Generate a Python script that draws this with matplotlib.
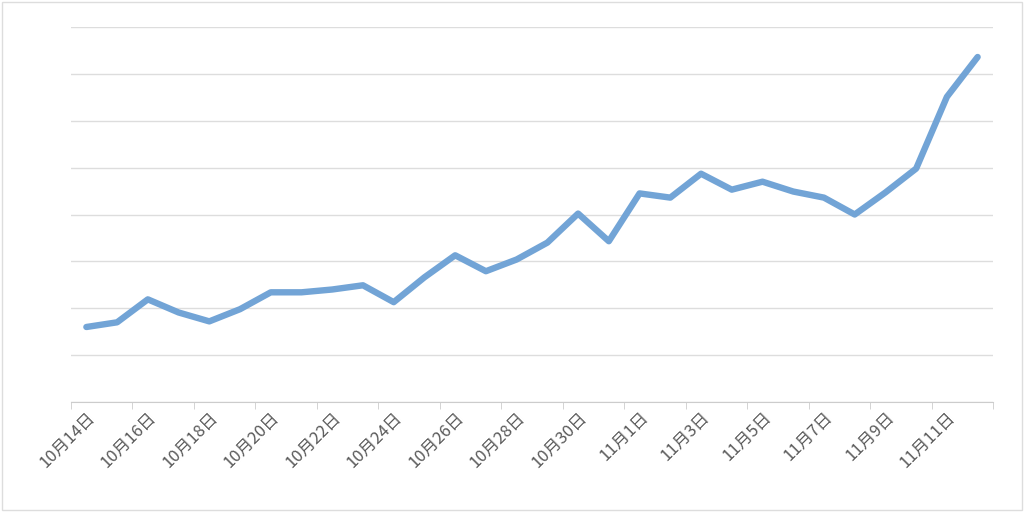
import matplotlib
matplotlib.use("Agg")
import matplotlib.pyplot as plt

plt.rcParams['font.family'] = ['Noto Sans CJK SC', 'DejaVu Sans']

dates = ["10月14日","10月15日","10月16日","10月17日","10月18日","10月19日","10月20日","10月21日",
         "10月22日","10月23日","10月24日","10月25日","10月26日","10月27日","10月28日","10月29日",
         "10月30日","10月31日","11月1日","11月2日","11月3日","11月4日","11月5日","11月6日",
         "11月7日","11月8日","11月9日","11月10日","11月11日","11月12日"]
values = [1.60,1.70,2.19,1.91,1.72,1.98,2.34,2.34,2.40,2.49,2.13,2.66,3.13,2.79,3.04,3.40,
          4.02,3.43,4.45,4.36,4.87,4.53,4.70,4.49,4.36,4.00,4.47,4.98,6.51,7.36]

fig = plt.figure(figsize=(10.24, 5.12), dpi=100)
ax = fig.add_axes([71/1024, 1-402/512, 922/1024, 375/512])
x = list(range(len(dates)))
ax.plot(x, values, color='#72a4d6', lw=4.6, solid_capstyle='round', solid_joinstyle='round', zorder=3)
ax.set_xlim(-0.5, len(dates)-0.5)
ax.set_ylim(0, 8)
ax.set_yticks(range(0, 9))
ax.yaxis.grid(True, color='#dddddd', lw=1)
ax.tick_params(axis='y', left=False, labelleft=False)
ax.set_xticks(x[::2])
ax.set_xticklabels(dates[::2], rotation=45, ha='right', rotation_mode='anchor', fontsize=12, color='#595959')
ax.tick_params(axis='x', which='major', length=0, pad=5)
ax.set_xticks([i - 0.5 for i in range(0, len(dates)+1, 2)], minor=True)
ax.tick_params(axis='x', which='minor', length=5, color='#cccccc')
for s in ['top', 'right', 'left']:
    ax.spines[s].set_visible(False)
ax.spines['bottom'].set_color('#cccccc')
fig.patches.append(plt.Rectangle((0.002, 0.004), 0.996, 0.992, transform=fig.transFigure,
                                 fill=False, edgecolor='#dddddd', lw=1))
fig.savefig("out.png", dpi=100)
